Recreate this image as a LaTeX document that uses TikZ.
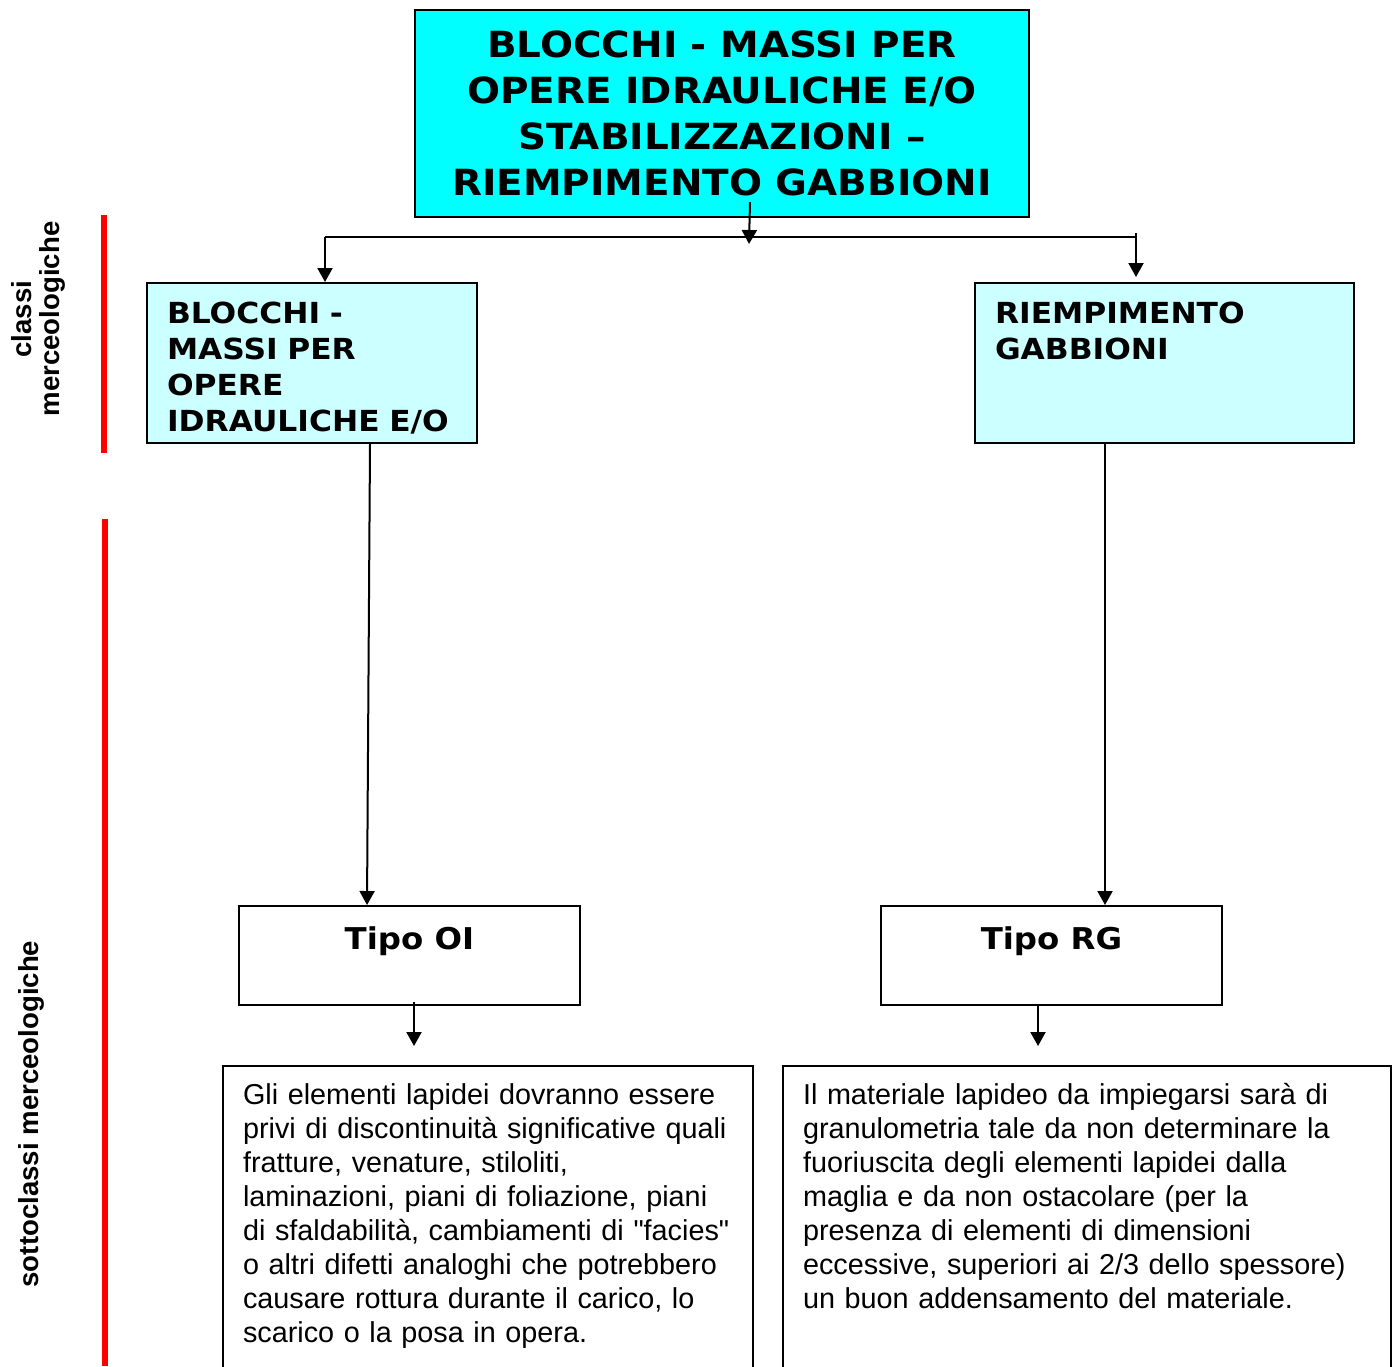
\documentclass[tikz,border=0pt]{standalone}
\usepackage{fontspec}
\setmainfont{Liberation Sans}[Ligatures=TeXOff]
\newfontfamily\largofont[FakeStretch=1.08]{DejaVu Sans}
\usetikzlibrary{arrows.meta,positioning,calc}
\definecolor{ciano}{RGB}{0,255,255}
\definecolor{cianochiaro}{RGB}{204,255,255}
\definecolor{rosso}{RGB}{255,0,0}
\hyphenpenalty=10000
\tikzset{
    titolobox/.style={
        rectangle,                % riquadro principale in alto
        draw=black,               % bordo nero
        fill=#1,                  % riempimento pieno (ciano)
        line width=1pt,
        minimum width=307pt,
        minimum height=103.5pt,
        align=center,             % righe centrate
        inner sep=0pt,
        font=\largofont\bfseries\fontsize{18}{23}\selectfont
    },
    classebox/.style={
        rectangle,                % classi merceologiche
        draw=black,
        fill=cianochiaro,         % ciano chiaro
        line width=1pt,
        text width=#1,            % larghezza utile del testo
        align=left,               % testo a sinistra, in alto
        inner xsep=10pt,
        inner ysep=9.5pt,
        text height=10.5pt,
        text depth=50.5pt,        % tiene il testo attaccato al bordo superiore
        font=\largofont\bfseries\fontsize{14.5}{18}\selectfont
    },
    tipobox/.style={
        rectangle,                % sottoclassi
        draw=black,
        fill=white,
        line width=1pt,
        minimum width=170.5pt,
        inner ysep=10pt,
        text height=11.5pt,
        text depth=18pt,          % titolo in alto nel riquadro
        font=\largofont\bfseries\fontsize{15}{18}\selectfont
    },
    testobox/.style={
        rectangle,                % descrizioni (tagliate in basso)
        draw=black,
        line width=1pt,
        text width=#1,
        align=left,
        inner xsep=10pt,
        inner ysep=8pt,
        text height=11pt,
        text depth=200pt,
        font=\fontsize{14.4}{17}\selectfont
    },
    etichetta/.style={
        rotate=90,                % testo verticale a sinistra
        align=center,
        inner sep=0pt,
        font=\bfseries\fontsize{13.8}{14}\selectfont
    },
    freccia/.style={
        draw,
        line width=1pt,
        -{Triangle[width=7.5pt,length=7pt]}
    },
    linea/.style={draw, line width=1pt},
    barra/.style={draw=rosso, line width=3.25pt}
}
\begin{document}
\begin{tikzpicture}[x=0.5pt, y=-0.5pt]
    \useasboundingbox (0,0) rectangle (1396,1366);
    \clip (0,0) rectangle (1396,1366);

    \node[titolobox=ciano, anchor=north west] (blocchimassi) at (414,9) {
        BLOCCHI - MASSI PER\\
        OPERE IDRAULICHE E/O\\
        STABILIZZAZIONI –\\
        RIEMPIMENTO GABBIONI
    };
    \node[classebox=145pt, anchor=north west] (opere) at (146,282) {
        BLOCCHI -\\MASSI PER\\OPERE\\IDRAULICHE E/O
    };
    \node[classebox=169.5pt, anchor=north west] (gabbioni) at (974,282) {
        RIEMPIMENTO\\GABBIONI
    };
    \node[tipobox, anchor=north west] (tipooi) at (238,905) {Tipo OI};
    \node[tipobox, right=149.5pt of tipooi] (tiporg) {Tipo RG};
    \node[testobox=245pt, anchor=north west] (testooi) at (222,1065) {
        Gli elementi lapidei dovranno essere\\
        privi di discontinuità significative quali\\
        fratture, venature, stiloliti,\\
        laminazioni, piani di foliazione, piani\\
        di sfaldabilità, cambiamenti di "facies"\\
        o altri difetti analoghi che potrebbero\\
        causare rottura durante il carico, lo\\
        scarico o la posa in opera.
    };
    \node[testobox=284pt, anchor=north west] (testorg) at (782,1065) {
        Il materiale lapideo da impiegarsi sarà di\\
        granulometria tale da non determinare la\\
        fuoriuscita degli elementi lapidei dalla\\
        maglia e da non ostacolare (per la\\
        presenza di elementi di dimensioni\\
        eccessive, superiori ai 2/3 dello spessore)\\
        un buon addensamento del materiale.
    };

    \node[etichetta] (classi) at (38,319) {classi\\merceologiche};
    \node[etichetta] (sottoclassi) at (31,1114) {sottoclassi merceologiche};
    \draw[barra] (104,215) -- (104,453);
    \draw[barra] (105,519) -- (105,1366);

    \coordinate (snodo) at (749,244);
    \coordinate (sinistra) at (325,237);
    \coordinate (destra) at (1136,237);
    \coordinate (finoi) at (414,1046);
    \coordinate (finrg) at (1038,1046);

    \draw[freccia] ([shift={(14pt,8pt)}]blocchimassi.south) -- (snodo);
    \draw[linea] (sinistra) -- (destra);
    \draw[freccia] (sinistra) -- (sinistra |- opere.north);
    \draw[freccia] ($(destra)+(0,-4)$) -- ($(destra |- gabbioni.north)+(0,-5)$);
    \draw[freccia] ([xshift=29pt]opere.south) -- ([xshift=-21.25pt]tipooi.north);
    \draw[freccia] ([xshift=-29.75pt]gabbioni.south) -- ([xshift=26.75pt]tiporg.north);
    \draw[freccia] ($(finoi |- tipooi.south)+(0,-4)$) -- (finoi);
    \draw[freccia] (finrg |- tiporg.south) -- (finrg);
\end{tikzpicture}
\end{document}
